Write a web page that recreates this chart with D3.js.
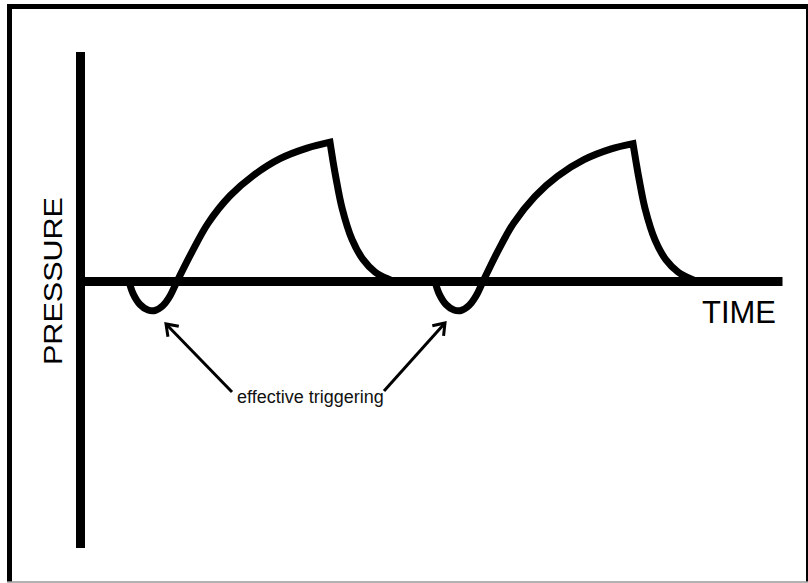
<!DOCTYPE html>
<html><head><meta charset="utf-8">
<script src="https://cdn.jsdelivr.net/npm/d3@7"></script>
<style>html,body{margin:0;padding:0;background:#fff;}svg{display:block;}</style>
</head><body>
<script>
// ---- data (time in s, pressure in arbitrary units) ----
const timeDomain = [0, 7.02];
const pressureDomain = [-26.6, 22.9];
const cycle1Rise = [[0.485,0],[0.525,-1.2],[0.595,-2.3],[0.675,-2.85],[0.745,-2.9],[0.825,-2.4],[0.895,-1.45],[0.965,0],[1.115,2.95],[1.275,5.8],[1.495,8.55],[1.725,10.55],[1.995,12.25],[2.265,13.3],[2.495,13.9]];
const cycle1Fall = [[2.495,13.9],[2.525,12.0],[2.555,10.3],[2.615,7.35],[2.715,4.2],[2.825,2.2],[2.945,0.95],[3.075,0.25],[3.145,0]];
const cycle2Rise = [[3.545,0],[3.585,-1.2],[3.655,-2.3],[3.735,-2.85],[3.805,-2.9],[3.885,-2.4],[3.955,-1.45],[4.025,0],[4.17,2.95],[4.33,5.8],[4.545,8.5],[4.77,10.5],[5.035,12.15],[5.3,13.2],[5.525,13.75]];
const cycle2Fall = [[5.525,13.75],[5.555,11.95],[5.585,10.25],[5.645,7.3],[5.745,4.15],[5.855,2.15],[5.975,0.95],[6.105,0.25],[6.175,0]];
const arrows = [
  {from:[1.515,-11.03], to:[0.855,-4.24]},
  {from:[3.035,-10.93], to:[3.645,-4.14]}
];
const annotationText = "effective triggering";
const xLabel = "TIME";
const yLabel = "PRESSURE";

const W = 808, H = 583;
const svg = d3.select("body").append("svg").attr("width", W).attr("height", H);
const x = d3.scaleLinear().domain(timeDomain).range([80.5, 782.5]);
const y = d3.scaleLinear().domain(pressureDomain).range([548, 52]);

// frame
svg.append("line").attr("x1",7).attr("x2",808).attr("y1",6.5).attr("y2",6.5).attr("stroke","#000").attr("stroke-width",5);
svg.append("line").attr("x1",9.5).attr("x2",9.5).attr("y1",4).attr("y2",582).attr("stroke","#000").attr("stroke-width",5);
svg.append("line").attr("x1",807).attr("x2",807).attr("y1",4).attr("y2",582).attr("stroke","#000").attr("stroke-width",2);
svg.append("line").attr("x1",7).attr("x2",808).attr("y1",582).attr("y2",582).attr("stroke","#999").attr("stroke-width",1.5);

// axes
svg.append("line").attr("x1",x(0)).attr("x2",x(0)).attr("y1",y(pressureDomain[1])).attr("y2",y(pressureDomain[0]))
  .attr("stroke","#000").attr("stroke-width",9);
svg.append("line").attr("x1",x(0)-4.5).attr("x2",x(timeDomain[1])).attr("y1",y(0)).attr("y2",y(0))
  .attr("stroke","#000").attr("stroke-width",9);

// waveform
const line = d3.line().x(d=>x(d[0])).y(d=>y(d[1])).curve(d3.curveCatmullRom.alpha(0.5));
[[cycle1Rise,cycle1Fall],[cycle2Rise,cycle2Fall]].forEach(([r,f])=>{
  const dPath = line(r) + line(f).replace(/^M/,"L");
  svg.append("path").attr("d",dPath).attr("fill","none").attr("stroke","#000")
    .attr("stroke-width",7).attr("stroke-linejoin","miter").attr("stroke-miterlimit",10);
});

// arrows
arrows.forEach(a=>{
  const x1=x(a.from[0]), y1=y(a.from[1]), x2=x(a.to[0]), y2=y(a.to[1]);
  svg.append("line").attr("x1",x1).attr("y1",y1).attr("x2",x2).attr("y2",y2)
    .attr("stroke","#000").attr("stroke-width",3);
  const ang = Math.atan2(y1-y2, x1-x2), L=13, s=0.62;
  const p1=[x2+L*Math.cos(ang+s), y2+L*Math.sin(ang+s)];
  const p2=[x2+L*Math.cos(ang-s), y2+L*Math.sin(ang-s)];
  svg.append("path").attr("d",`M${p1}L${x2},${y2}L${p2}`).attr("fill","none")
    .attr("stroke","#000").attr("stroke-width",3).attr("stroke-linejoin","miter");
});

// texts
const font = "'Liberation Sans', Arial, sans-serif";
svg.append("text").attr("x",237).attr("y",403).attr("font-family",font).attr("font-size",18)
  .attr("fill","#111").text(annotationText);
svg.append("text").attr("x",702).attr("y",323).attr("font-family",font).attr("font-size",32)
  .attr("textLength",74).attr("lengthAdjust","spacingAndGlyphs").attr("fill","#000").text(xLabel);
svg.append("text").attr("transform","translate(62,281) rotate(-90)").attr("text-anchor","middle")
  .attr("font-family",font).attr("font-size",26).attr("textLength",168).attr("lengthAdjust","spacingAndGlyphs")
  .attr("fill","#000").text(yLabel);
</script>
</body></html>
